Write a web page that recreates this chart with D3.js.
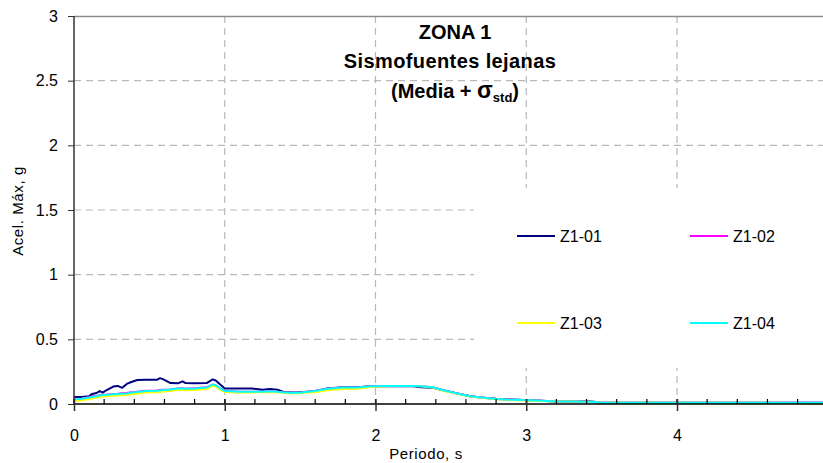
<!DOCTYPE html>
<html>
<head>
<meta charset="utf-8">
<script src="https://cdn.jsdelivr.net/npm/d3@7"></script>
<style>
  html, body { margin: 0; padding: 0; background: #fff; }
  svg { display: block; font-family: "Liberation Sans", Arial, sans-serif; }
</style>
</head>
<body>
<svg id="chart" width="823" height="463"></svg>
<script>
// Period grid (s) shared by all four spectra
const periods = [0, 0.05, 0.1, 0.12, 0.15, 0.17, 0.19, 0.22, 0.26, 0.29, 0.32, 0.35, 0.38, 0.42, 0.48, 0.55, 0.57, 0.59, 0.64, 0.69, 0.72, 0.74, 0.8, 0.88, 0.92, 0.94, 0.97, 1.0, 1.1, 1.18, 1.25, 1.3, 1.35, 1.4, 1.45, 1.49, 1.55, 1.6, 1.68, 1.78, 1.88, 1.97, 2.1, 2.25, 2.3, 2.38, 2.47, 2.55, 2.63, 2.7, 2.8, 2.9, 2.98, 3.1, 3.2, 3.3, 3.4, 3.45, 3.5, 3.7, 4.0, 4.3, 4.6, 4.8, 4.86, 4.97];

// Spectral acceleration (g), mean + sigma
const z101 = [0.055, 0.055, 0.06, 0.078, 0.085, 0.1, 0.088, 0.11, 0.135, 0.14, 0.125, 0.155, 0.17, 0.185, 0.187, 0.187, 0.2, 0.192, 0.162, 0.16, 0.175, 0.162, 0.16, 0.162, 0.19, 0.182, 0.15, 0.12, 0.12, 0.12, 0.11, 0.117, 0.11, 0.09, 0.088, 0.09, 0.095, 0.1, 0.12, 0.13, 0.13, 0.138, 0.14, 0.138, 0.13, 0.125, 0.1, 0.08, 0.06, 0.05, 0.04, 0.035, 0.03, 0.025, 0.02, 0.02, 0.022, 0.018, 0.01, 0.01, 0.01, 0.01, 0.01, 0.01, 0.01, 0.01];
const z102 = [0.04, 0.042, 0.052, 0.06, 0.062, 0.068, 0.072, 0.074, 0.078, 0.08, 0.083, 0.085, 0.09, 0.095, 0.102, 0.104, 0.108, 0.11, 0.113, 0.12, 0.121, 0.118, 0.121, 0.13, 0.15, 0.145, 0.12, 0.1, 0.095, 0.095, 0.095, 0.098, 0.095, 0.088, 0.085, 0.087, 0.095, 0.1, 0.118, 0.128, 0.128, 0.138, 0.14, 0.14, 0.137, 0.13, 0.1, 0.08, 0.06, 0.05, 0.038, 0.033, 0.03, 0.025, 0.02, 0.02, 0.017, 0.015, 0.01, 0.01, 0.01, 0.01, 0.01, 0.01, 0.01, 0.01];
const z103 = [0.025, 0.028, 0.038, 0.043, 0.048, 0.053, 0.058, 0.06, 0.063, 0.066, 0.068, 0.07, 0.076, 0.08, 0.088, 0.09, 0.093, 0.096, 0.1, 0.108, 0.108, 0.106, 0.108, 0.116, 0.14, 0.135, 0.11, 0.092, 0.088, 0.088, 0.09, 0.093, 0.09, 0.085, 0.082, 0.083, 0.088, 0.09, 0.106, 0.116, 0.118, 0.132, 0.14, 0.14, 0.137, 0.128, 0.097, 0.077, 0.058, 0.048, 0.036, 0.03, 0.028, 0.024, 0.02, 0.02, 0.017, 0.015, 0.01, 0.01, 0.01, 0.01, 0.01, 0.008, 0.004, 0.003];
const z104 = [0.036, 0.04, 0.05, 0.055, 0.06, 0.065, 0.07, 0.072, 0.075, 0.078, 0.08, 0.082, 0.088, 0.092, 0.1, 0.102, 0.105, 0.108, 0.112, 0.12, 0.12, 0.118, 0.12, 0.128, 0.15, 0.145, 0.12, 0.1, 0.095, 0.095, 0.095, 0.098, 0.095, 0.088, 0.085, 0.087, 0.095, 0.1, 0.118, 0.128, 0.128, 0.138, 0.14, 0.14, 0.138, 0.13, 0.1, 0.08, 0.06, 0.05, 0.038, 0.033, 0.03, 0.025, 0.02, 0.02, 0.017, 0.015, 0.01, 0.01, 0.01, 0.01, 0.01, 0.01, 0.01, 0.01];

const seriesNames = ["Z1-01", "Z1-02", "Z1-03", "Z1-04"];
const seriesColors = ["#000080", "#FF00FF", "#FFFF00", "#00FFFF"];
const seriesValues = [z101, z102, z103, z104];

const yTicks = [0, 0.5, 1, 1.5, 2, 2.5, 3];
const xTicks = [0, 1, 2, 3, 4];
const xMinorTicks = d3.range(0, 5.0001, 0.2);

const svg = d3.select("#chart");
const W = 823;
const plotLeft = 74, plotTop = 16, plotBottom = 404;

const x = d3.scaleLinear().domain([0, 5]).range([plotLeft, plotLeft + 5 * 150.75]);
const y = d3.scaleLinear().domain([0, 3]).range([plotBottom, plotTop]);

const grid = svg.append("g");
// horizontal dashed gridlines
grid.selectAll("line.h").data(yTicks.filter(d => d > 0 && d < 3)).enter().append("line")
  .attr("x1", plotLeft).attr("x2", W).attr("y1", d => y(d)).attr("y2", d => y(d))
  .attr("stroke", "#b8b8b8").attr("stroke-width", 1.2).attr("stroke-dasharray", "7,5");
// vertical dashed gridlines
grid.selectAll("line.v").data(xTicks.filter(d => d > 0)).enter().append("line")
  .attr("x1", d => x(d)).attr("x2", d => x(d)).attr("y1", plotTop).attr("y2", plotBottom)
  .attr("stroke", "#b8b8b8").attr("stroke-width", 1.2).attr("stroke-dasharray", "7,5");
// top border of the plot area
svg.append("line").attr("x1", plotLeft).attr("x2", W).attr("y1", plotTop + 0.5).attr("y2", plotTop + 0.5)
  .attr("stroke", "#8c8c8c").attr("stroke-width", 1.3);

// legend panel (white background over the grid)
const legendBox = svg.append("g");
legendBox.append("rect").attr("x", 474).attr("y", 188).attr("width", W - 474).attr("height", 180)
  .attr("fill", "#fff");

// spectra
const line = d3.line().x((d, i) => x(periods[i])).y(d => y(d)).curve(d3.curveLinear);
const plot = svg.append("g");
seriesValues.forEach((vals, k) => {
  plot.append("path").datum(vals)
    .attr("d", line)
    .attr("fill", "none")
    .attr("stroke", seriesColors[k])
    .attr("stroke-width", 2)
    .attr("stroke-linejoin", "round");
});

// y axis
const yAxis = svg.append("g").attr("transform", `translate(${plotLeft},0)`)
  .call(d3.axisLeft(y).tickValues(yTicks).tickSize(6).tickPadding(10).tickFormat(d3.format("")));
yAxis.select(".domain").attr("stroke", "#333").attr("stroke-width", 1.5).attr("d", `M0,${plotTop}V${plotBottom}`);
yAxis.selectAll(".tick line").attr("stroke", "#333");
yAxis.selectAll(".tick text").attr("font-size", 16).attr("fill", "#000");

// x axis: minor ticks inside, major ticks crossing the axis
const xg = svg.append("g").attr("transform", `translate(0,${plotBottom})`);
xg.append("line").attr("x1", plotLeft).attr("x2", W).attr("y1", 0).attr("y2", 0)
  .attr("stroke", "#000").attr("stroke-width", 1.5);
xg.selectAll("line.minor").data(xMinorTicks).enter().append("line")
  .attr("x1", d => x(d)).attr("x2", d => x(d)).attr("y1", -5).attr("y2", 0)
  .attr("stroke", "#000").attr("stroke-width", 1.2);
const xAxis = xg.append("g")
  .call(d3.axisBottom(x).tickValues(xTicks).tickSize(7).tickPadding(19).tickFormat(d3.format("d")));
xAxis.select(".domain").remove();
xAxis.selectAll(".tick line").attr("y1", -5).attr("stroke", "#333").attr("stroke-width", 1.5);
xAxis.selectAll(".tick text").attr("font-size", 16).attr("fill", "#000");

// axis titles
svg.append("text").attr("x", 426).attr("y", 459).attr("text-anchor", "middle")
  .attr("font-size", 15).attr("letter-spacing", 0.6).text("Periodo, s");
svg.append("text").attr("transform", "translate(23,211) rotate(-90)").attr("text-anchor", "middle")
  .attr("font-size", 15).attr("letter-spacing", 0.6).text("Acel. Máx, g");

// title
const title = svg.append("g").attr("font-weight", "bold").attr("text-anchor", "middle");
title.append("text").attr("x", 455).attr("y", 39).attr("font-size", 20).text("ZONA 1");
title.append("text").attr("x", 450).attr("y", 68).attr("font-size", 20).attr("letter-spacing", 0.4).text("Sismofuentes lejanas");
const t3 = title.append("text").attr("x", 455).attr("y", 98).attr("font-size", 20);
t3.append("tspan").text("(Media + ");
t3.append("tspan").text("σ").attr("font-size", 23);
t3.append("tspan").text("std").attr("font-size", 13).attr("dy", 4);
t3.append("tspan").text(")").attr("dy", -4);

// legend entries
const legendPos = [[517, 236], [690, 236], [517, 323], [690, 323]];
seriesNames.forEach((name, k) => {
  const [lx, ly] = legendPos[k];
  legendBox.append("line").attr("x1", lx).attr("x2", lx + 38).attr("y1", ly).attr("y2", ly)
    .attr("stroke", seriesColors[k]).attr("stroke-width", 2);
  legendBox.append("text").attr("x", lx + 43).attr("y", ly + 6).attr("font-size", 16).text(name);
});
</script>
</body>
</html>
